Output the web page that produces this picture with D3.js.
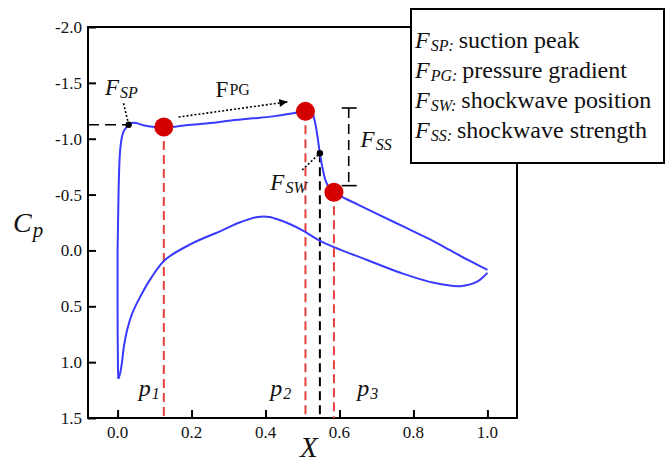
<!DOCTYPE html>
<html>
<head>
<meta charset="utf-8">
<script src="https://cdn.jsdelivr.net/npm/d3@7"></script>
</head>
<body style="margin:0">
<div id="chart"></div>
<script>
// upper surface (suction side), leading edge -> trailing edge
const upperX  = [0.002, 0.001, 0.0, 0.0, 0.002, 0.004, 0.007, 0.012, 0.017, 0.023, 0.03, 0.038, 0.05, 0.07, 0.1, 0.125, 0.16, 0.2, 0.25, 0.3, 0.36, 0.42, 0.47, 0.5, 0.515, 0.525, 0.533, 0.54, 0.547, 0.554, 0.562, 0.572, 0.585, 0.6, 0.65, 0.7, 0.75, 0.8, 0.85, 0.9, 0.95, 1.0];
const upperCp = [1.15, 1.05, 0.5, 0.0, -0.4, -0.7, -0.9, -1.02, -1.07, -1.1, -1.125, -1.14, -1.14, -1.12, -1.105, -1.1, -1.11, -1.125, -1.14, -1.16, -1.18, -1.2, -1.225, -1.245, -1.255, -1.24, -1.16, -1.03, -0.87, -0.74, -0.63, -0.56, -0.52, -0.49, -0.41, -0.33, -0.25, -0.17, -0.09, 0.0, 0.09, 0.175];
// lower surface (pressure side)
const lowerX  = [0.002, 0.007, 0.012, 0.017, 0.026, 0.04, 0.062, 0.09, 0.13, 0.2, 0.283, 0.33, 0.38, 0.41, 0.44, 0.47, 0.5, 0.54, 0.585, 0.675, 0.765, 0.855, 0.927, 0.972, 1.0];
const lowerCp = [1.15, 1.1, 1.0, 0.86, 0.71, 0.56, 0.41, 0.25, 0.08, -0.06, -0.18, -0.25, -0.3, -0.3, -0.27, -0.23, -0.18, -0.1, -0.03, 0.086, 0.2, 0.29, 0.32, 0.28, 0.2];

// sample points p1..p3
const pointNames = ['1', '2', '3'];
const pointX  = [0.125, 0.508, 0.585];
const pointCp = [-1.105, -1.245, -0.52];
const pointLabelX = [0.057, 0.413, 0.648];

// features
const fspX = 0.03, fspCp = -1.125;
const fswX = 0.547, fswCp = -0.87;
const fssX = 0.625, fssTop = -1.275, fssBottom = -0.58;

const xTicks = [0, 0.2, 0.4, 0.6, 0.8, 1.0];
const yTicks = [-2.0, -1.5, -1.0, -0.5, 0.0, 0.5, 1.0, 1.5];

const legendKeys = ['SP', 'PG', 'SW', 'SS'];
const legendTexts = ['suction peak', 'pressure gradient', 'shockwave position', 'shockwave strength'];

const W = 665, H = 462;
const mLeft = 88, mRight = 517, mTop = 27, mBottom = 418;
const serif = 'Liberation Serif';

const svg = d3.select('#chart').append('svg')
  .attr('width', W)
  .attr('height', H)
  .style('display', 'block');

const x = d3.scaleLinear().domain([-0.08, 1.08]).range([mLeft, mRight]);
const y = d3.scaleLinear().domain([-2.0, 1.5]).range([mTop, mBottom]);

// plain text helper: every text node carries its own font attributes, no tspans
function txt(px, py, s, size, italic, anchor) {
  return svg.append('text')
    .attr('x', px).attr('y', py)
    .attr('font-family', serif)
    .attr('font-size', size)
    .attr('font-style', italic ? 'italic' : 'normal')
    .attr('text-anchor', anchor || 'start')
    .attr('fill', '#111')
    .text(s);
}
// main letter plus a dropped subscript, placed after the measured main text
function withSub(px, py, main, mainSize, sub, subSize, drop, italic, subItalic) {
  const a = txt(px, py, main, mainSize, italic);
  const wMain = a.node().getComputedTextLength();
  const b = txt(px + wMain + 1, py + drop, sub, subSize, subItalic === undefined ? italic : subItalic);
  return px + wMain + 1 + b.node().getComputedTextLength();
}

svg.append('defs').append('marker')
  .attr('id', 'arrow')
  .attr('viewBox', '0 0 10 10')
  .attr('refX', 10).attr('refY', 5)
  .attr('markerWidth', 11).attr('markerHeight', 8)
  .attr('markerUnits', 'userSpaceOnUse')
  .attr('orient', 'auto')
  .append('path')
  .attr('d', 'M0,0 L10,5 L0,10 Z')
  .attr('fill', '#000');

// axes: d3 draws the ticks, labels are re-set as plain serif text
const yAxis = svg.append('g')
  .attr('transform', `translate(${mLeft},0)`)
  .call(d3.axisLeft(y).tickValues(yTicks).tickSize(-8).tickFormat(''));
const xAxis = svg.append('g')
  .attr('transform', `translate(0,${mBottom})`)
  .call(d3.axisBottom(x).tickValues(xTicks).tickSize(-8).tickFormat(''));
[xAxis, yAxis].forEach(g => {
  g.select('.domain').remove();
  g.selectAll('.tick text').remove();
  g.selectAll('.tick line').attr('stroke', '#000').attr('stroke-width', 2);
});
yTicks.forEach(v => txt(mLeft - 6, y(v) + 6, v.toFixed(1), 17, false, 'end'));
xTicks.forEach(v => txt(x(v), mBottom + 20, v.toFixed(1), 17, false, 'middle'));

svg.append('rect')
  .attr('x', mLeft).attr('y', mTop)
  .attr('width', mRight - mLeft).attr('height', mBottom - mTop)
  .attr('fill', 'none').attr('stroke', '#000').attr('stroke-width', 2);

// axis labels
withSub(13, 232, 'C', 28, 'p', 21, 5, true);
txt(300, 457, 'X', 29, true);

// dashed guides
svg.selectAll('line.pdash')
  .data(pointX)
  .enter().append('line')
  .attr('class', 'pdash')
  .attr('x1', d => x(d)).attr('x2', d => x(d))
  .attr('y1', (d, i) => y(pointCp[i])).attr('y2', mBottom)
  .attr('stroke', '#e4403c').attr('stroke-width', 2)
  .attr('stroke-dasharray', '9,5');

svg.append('line')
  .attr('x1', x(fswX)).attr('x2', x(fswX))
  .attr('y1', y(fswCp)).attr('y2', mBottom)
  .attr('stroke', '#000').attr('stroke-width', 2)
  .attr('stroke-dasharray', '9,5');

svg.append('line')
  .attr('x1', mLeft).attr('x2', x(fspX))
  .attr('y1', y(fspCp)).attr('y2', y(fspCp))
  .attr('stroke', '#000').attr('stroke-width', 1.6)
  .attr('stroke-dasharray', '11,6');

// F_SS bracket
svg.append('line')
  .attr('x1', x(fssX)).attr('x2', x(fssX))
  .attr('y1', y(fssTop)).attr('y2', y(fssBottom))
  .attr('stroke', '#000').attr('stroke-width', 1.6)
  .attr('stroke-dasharray', '10,6');
[fssTop, fssBottom].forEach(v => {
  svg.append('line')
    .attr('x1', x(fssX) - 7).attr('x2', x(fssX) + 8)
    .attr('y1', y(v)).attr('y2', y(v))
    .attr('stroke', '#000').attr('stroke-width', 1.6);
});

// curves
const line = d3.line()
  .x(d => x(d[0]))
  .y(d => y(d[1]))
  .curve(d3.curveCatmullRom.alpha(0.5));

[[upperX, upperCp], [lowerX, lowerCp]].forEach(([xs, cs]) => {
  svg.append('path')
    .datum(xs.map((v, i) => [v, cs[i]]))
    .attr('d', line)
    .attr('fill', 'none')
    .attr('stroke', '#3a3aff')
    .attr('stroke-width', 2);
});

// point markers
svg.selectAll('circle.pt')
  .data(pointX)
  .enter().append('circle')
  .attr('class', 'pt')
  .attr('cx', d => x(d))
  .attr('cy', (d, i) => y(pointCp[i]))
  .attr('r', 9.5)
  .attr('fill', '#d40000');

// feature dots
[[fspX, fspCp], [fswX, fswCp]].forEach(([a, b]) => {
  svg.append('circle').attr('cx', x(a)).attr('cy', y(b)).attr('r', 3.2).attr('fill', '#000');
});

// dotted leaders
const dotted = (x1, c1, x2, c2, arrow) => {
  const l = svg.append('line')
    .attr('x1', x(x1)).attr('y1', y(c1))
    .attr('x2', x(x2)).attr('y2', y(c2))
    .attr('stroke', '#000').attr('stroke-width', 1.6)
    .attr('stroke-dasharray', '2,2');
  if (arrow) l.attr('marker-end', 'url(#arrow)');
};
dotted(0.016, -1.317, fspX, fspCp);
dotted(0.499, -0.72, fswX, fswCp);
dotted(0.165, -1.194, 0.459, -1.33, true);

// annotation labels
withSub(x(-0.034), y(-1.39), 'F', 23, 'SP', 16, 3, true);
withSub(x(0.265), y(-1.373), 'F', 23, ' PG', 16, -2, false);
withSub(x(0.413), y(-0.54), 'F', 23, 'SW', 16, 3, true);
withSub(x(0.657), y(-0.926), 'F', 23, 'SS', 16, 3, true);

pointNames.forEach((n, i) => {
  withSub(x(pointLabelX[i]), y(1.303), 'p', 24, n, 16, 3, true);
});

// legend box
svg.append('rect')
  .attr('x', 411).attr('y', 9)
  .attr('width', 253).attr('height', 154)
  .attr('fill', '#fff').attr('stroke', '#000').attr('stroke-width', 2);

legendKeys.forEach((k, i) => {
  const by = 48 + i * 30;
  const end = withSub(415, by, 'F', 24, k + ':', 16, 3, true);
  txt(end + 5, by, legendTexts[i], 24, false);
});
</script>
</body>
</html>
